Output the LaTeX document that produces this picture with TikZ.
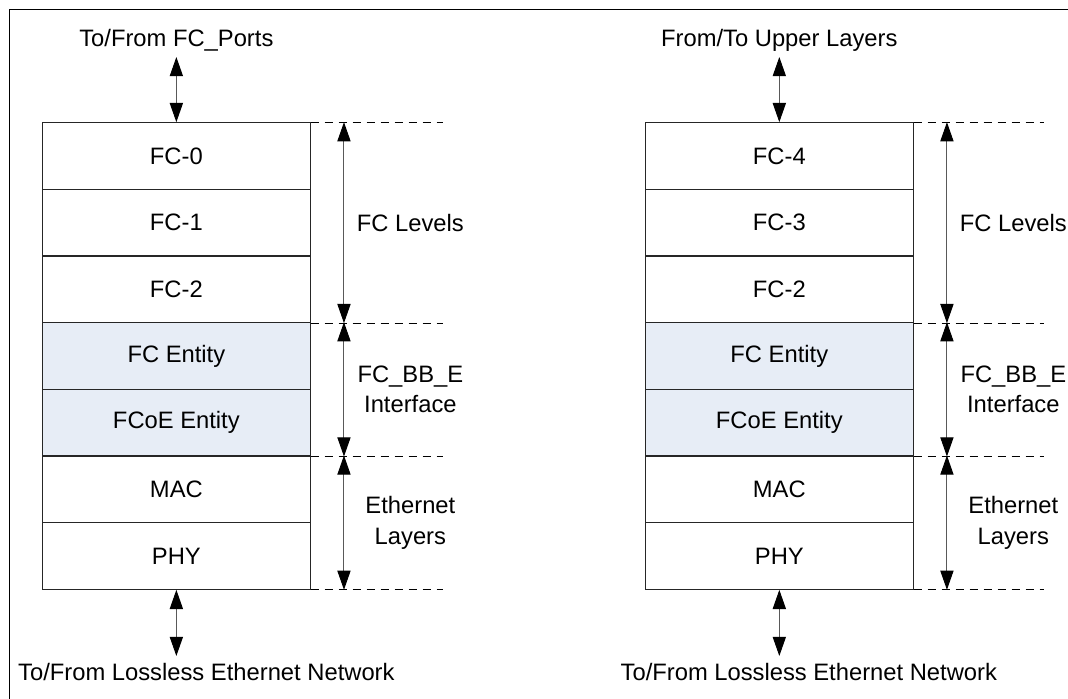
\documentclass[tikz,border=0pt]{standalone}
\usepackage{fontspec}
\setmainfont{Liberation Sans}
\usetikzlibrary{positioning, arrows.meta, calc}

\definecolor{entityblue}{RGB}{231,237,246}

\begin{document}
\begin{tikzpicture}[
  >={Triangle[length=0.48cm, width=0.33cm, color=black]},
  font=\fontsize{16.9}{22}\selectfont,
  layer/.style={draw=black!85, line width=0.7pt, minimum width=6.69cm,
    minimum height=1.667cm, inner sep=0pt},
  entity/.style={layer, fill=entityblue},
  ext/.style={inner xsep=0pt, text depth=0pt},
  lvl/.style={align=center, text=black},
  guide/.style={dash pattern=on 0.22cm off 0.13cm, line width=0.9pt},
  dim/.style={<->, line width=0.7pt, black!65},
]
\useasboundingbox (0,0) rectangle (26.7,17.45);

% outer frame (runs off the page on the right and bottom)
\draw[line width=0.7pt] (0.233,-1) -- (0.233,17.217) -- (28,17.217);

% --- FC_Ports side (left) ---
\node[layer]  (fc0)  at (4.409, 13.55)  {FC-0};
\node[layer]  (fc1)  at (4.409, 11.883) {FC-1};
\node[layer]  (fc2)  at (4.409, 10.217) {FC-2};
\node[entity] (fcen) at (4.409, 8.55)   {FC Entity};
\node[entity] (fcoe) at (4.409, 6.883)  {FCoE Entity};
\node[layer]  (mac)  at (4.409, 5.217)  {MAC};
\node[layer]  (phy)  at (4.409, 3.55)   {PHY};

\node[ext, anchor=south, inner ysep=0.25cm] (ports) at (4.409, 16.025) {To/From FC\_Ports};
\node[ext, anchor=north, inner ysep=0.17cm] (net)   at (5.16, 1.05)    {To/From Lossless Ethernet Network};

% --- Upper layers side (right) ---
\node[layer]  (rfc4)  at (19.483, 13.55)  {FC-4};
\node[layer]  (rfc3)  at (19.483, 11.883) {FC-3};
\node[layer]  (rfc2)  at (19.483, 10.217) {FC-2};
\node[entity] (rfcen) at (19.483, 8.55)   {FC Entity};
\node[entity] (rfcoe) at (19.483, 6.883)  {FCoE Entity};
\node[layer]  (rmac)  at (19.483, 5.217)  {MAC};
\node[layer]  (rphy)  at (19.483, 3.55)   {PHY};

\node[ext, anchor=south, inner ysep=0.25cm] (upper) at (19.483, 16.025) {From/To Upper Layers};
\node[ext, anchor=north, inner ysep=0.17cm] (rnet)  at (20.22, 1.05)    {To/From Lossless Ethernet Network};

% --- Boundary guides (dashed) ---
\draw[guide] (fc0.north east)  -- ++(3.3,0);
\draw[guide] (fc2.south east)  -- ++(3.3,0);
\draw[guide] (fcoe.south east) -- ++(3.3,0);
\draw[guide] (phy.south east)  -- ++(3.3,0);

\draw[guide] (rfc4.north east)  -- ++(3.27,0);
\draw[guide] (rfc2.south east)  -- ++(3.27,0);
\draw[guide] (rfcoe.south east) -- ++(3.27,0);
\draw[guide] (rphy.south east)  -- ++(3.27,0);

% --- Stack in/out ---
\draw[dim] (ports.south) -- (fc0.north);
\draw[dim] (phy.south)   -- (phy.south |- net.north);
\draw[dim] (upper.south) -- (rfc4.north);
\draw[dim] (rphy.south)  -- (rphy.south |- rnet.north);

% --- Level spans (left) ---
\draw[dim] ($(fc0.north east)+(0.833,0)$) -- ($(fc2.south east)+(0.833,0)$)
  node[midway, lvl, xshift=1.66cm] {FC Levels};
\draw[dim] ($(fcen.north east)+(0.833,0)$) -- ($(fcoe.south east)+(0.833,0)$)
  node[midway, lvl, xshift=1.66cm] {FC\_BB\_E\\Interface};
\draw[dim] ($(mac.north east)+(0.833,0)$) -- ($(phy.south east)+(0.833,0)$)
  node[midway, lvl, xshift=1.66cm] {Ethernet\\Layers};

% --- Level spans (right) ---
\draw[dim] ($(rfc4.north east)+(0.833,0)$) -- ($(rfc2.south east)+(0.833,0)$)
  node[midway, lvl, xshift=1.66cm] {FC Levels};
\draw[dim] ($(rfcen.north east)+(0.833,0)$) -- ($(rfcoe.south east)+(0.833,0)$)
  node[midway, lvl, xshift=1.66cm] {FC\_BB\_E\\Interface};
\draw[dim] ($(rmac.north east)+(0.833,0)$) -- ($(rphy.south east)+(0.833,0)$)
  node[midway, lvl, xshift=1.66cm] {Ethernet\\Layers};

\end{tikzpicture}
\end{document}
